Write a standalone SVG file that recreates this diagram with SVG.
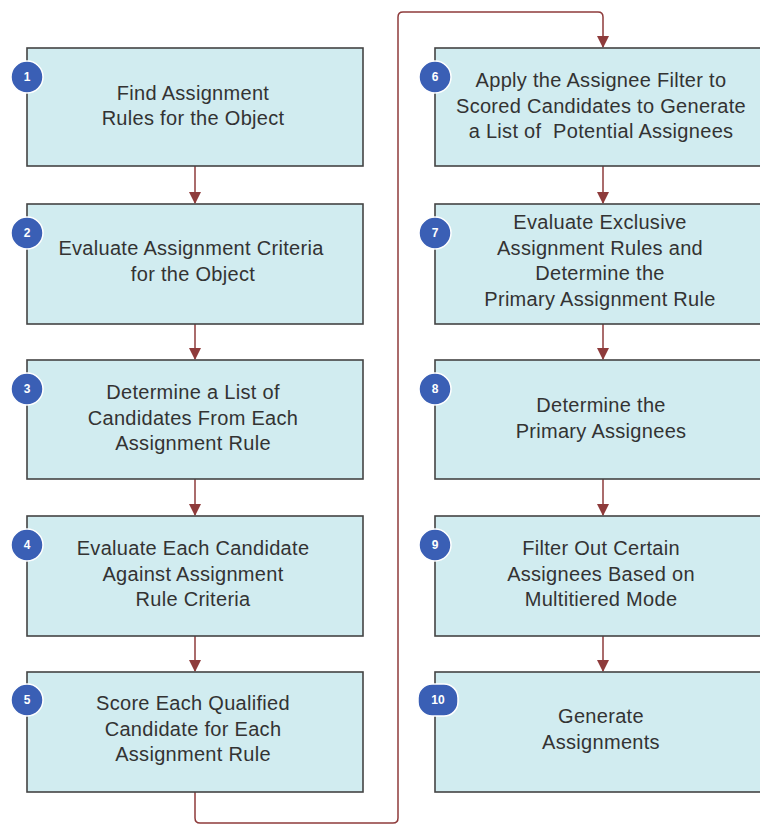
<svg xmlns="http://www.w3.org/2000/svg" width="760" height="825" viewBox="0 0 760 825">
<defs>
<style>
.box{fill:#d1ecf0;stroke:#444;stroke-width:1.6}
.t{font-family:"Liberation Sans",Arial,sans-serif;font-size:20px;letter-spacing:0.3px;fill:#333;text-anchor:middle}
.badge{fill:#3a5fb5;stroke:#fff;stroke-width:1.5}
.n{font-family:"Liberation Sans",Arial,sans-serif;font-size:12px;font-weight:bold;fill:#fff;text-anchor:middle}
.c{fill:none;stroke:#8e3b3b;stroke-width:1.5}
</style>
<marker id="ah" viewBox="0 0 12 12" refX="11" refY="6" markerWidth="12" markerHeight="12" markerUnits="userSpaceOnUse" orient="auto">
<path d="M0,0 L12,6 L0,12 z" fill="#8e3b3b"/>
</marker>
</defs>
<rect width="760" height="825" fill="#fff"/>
<g id="connectors">
<line class="c" x1="195" y1="166" x2="195" y2="203" marker-end="url(#ah)"/>
<line class="c" x1="195" y1="324" x2="195" y2="359" marker-end="url(#ah)"/>
<line class="c" x1="195" y1="479" x2="195" y2="515" marker-end="url(#ah)"/>
<line class="c" x1="195" y1="636" x2="195" y2="671" marker-end="url(#ah)"/>
<path class="c" d="M195,792 V818 Q195,823 200,823 H393 Q398,823 398,818 V17 Q398,12 403,12 H598 Q603,12 603,17 V47" marker-end="url(#ah)"/>
<line class="c" x1="603" y1="166" x2="603" y2="203" marker-end="url(#ah)"/>
<line class="c" x1="603" y1="324" x2="603" y2="359" marker-end="url(#ah)"/>
<line class="c" x1="603" y1="479" x2="603" y2="515" marker-end="url(#ah)"/>
<line class="c" x1="603" y1="636" x2="603" y2="671" marker-end="url(#ah)"/>
</g>
<g id="node1">
<rect class="box" x="27" y="48" width="336" height="118"/>
<text class="t" x="193" y="100">Find Assignment</text>
<text class="t" x="193" y="125">Rules for the Object</text>
<circle class="badge" cx="27" cy="77" r="16"/><text class="n" x="27" y="81">1</text>
</g>
<g id="node2">
<rect class="box" x="27" y="204" width="336" height="120"/>
<text class="t" x="191" y="255">Evaluate Assignment Criteria</text>
<text class="t" x="193" y="281">for the Object</text>
<circle class="badge" cx="27" cy="233" r="16"/><text class="n" x="27" y="237">2</text>
</g>
<g id="node3">
<rect class="box" x="27" y="360" width="336" height="119"/>
<text class="t" x="193" y="399">Determine a List of</text>
<text class="t" x="193" y="425">Candidates From Each</text>
<text class="t" x="193" y="450">Assignment Rule</text>
<circle class="badge" cx="27" cy="389" r="16"/><text class="n" x="27" y="393">3</text>
</g>
<g id="node4">
<rect class="box" x="27" y="516" width="336" height="120"/>
<text class="t" x="193" y="555">Evaluate Each Candidate</text>
<text class="t" x="193" y="581">Against Assignment</text>
<text class="t" x="193" y="606">Rule Criteria</text>
<circle class="badge" cx="27" cy="545" r="16"/><text class="n" x="27" y="549">4</text>
</g>
<g id="node5">
<rect class="box" x="27" y="672" width="336" height="120"/>
<text class="t" x="193" y="710">Score Each Qualified</text>
<text class="t" x="193" y="736">Candidate for Each</text>
<text class="t" x="193" y="761">Assignment Rule</text>
<circle class="badge" cx="27" cy="700" r="16"/><text class="n" x="27" y="704">5</text>
</g>
<g id="node6">
<rect class="box" x="435" y="48" width="336" height="118"/>
<text class="t" x="601" y="87">Apply the Assignee Filter to</text>
<text class="t" x="601" y="113">Scored Candidates to Generate</text>
<text class="t" x="601" y="138" xml:space="preserve">a List of  Potential Assignees</text>
<circle class="badge" cx="435" cy="77" r="16"/><text class="n" x="435" y="81">6</text>
</g>
<g id="node7">
<rect class="box" x="435" y="204" width="336" height="120"/>
<text class="t" x="600" y="229">Evaluate Exclusive</text>
<text class="t" x="600" y="255">Assignment Rules and</text>
<text class="t" x="600" y="280">Determine the</text>
<text class="t" x="600" y="306">Primary Assignment Rule</text>
<circle class="badge" cx="435" cy="233" r="16"/><text class="n" x="435" y="237">7</text>
</g>
<g id="node8">
<rect class="box" x="435" y="360" width="336" height="119"/>
<text class="t" x="601" y="412">Determine the</text>
<text class="t" x="601" y="438">Primary Assignees</text>
<circle class="badge" cx="435" cy="389" r="16"/><text class="n" x="435" y="393">8</text>
</g>
<g id="node9">
<rect class="box" x="435" y="516" width="336" height="120"/>
<text class="t" x="601" y="555">Filter Out Certain</text>
<text class="t" x="601" y="581">Assignees Based on</text>
<text class="t" x="601" y="606">Multitiered Mode</text>
<circle class="badge" cx="435" cy="545" r="16"/><text class="n" x="435" y="549">9</text>
</g>
<g id="node10">
<rect class="box" x="435" y="672" width="336" height="120"/>
<text class="t" x="601" y="723">Generate</text>
<text class="t" x="601" y="749">Assignments</text>
<rect class="badge" x="418" y="684" width="40" height="32" rx="14"/><text class="n" x="438" y="704">10</text>
</g>
</svg>
